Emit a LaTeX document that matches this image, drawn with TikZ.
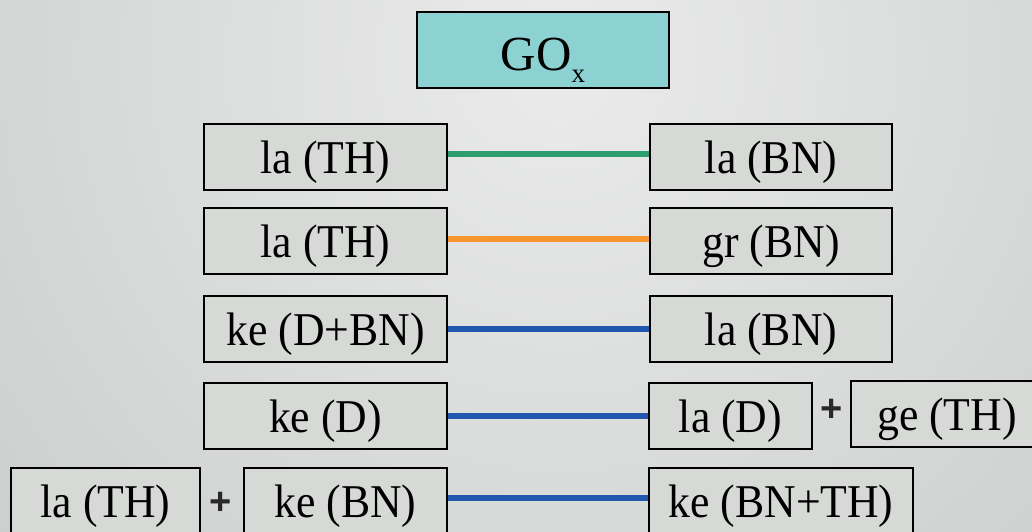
\documentclass[tikz,border=0pt]{standalone}
\usepackage{fontspec}
\setmainfont{Liberation Serif}[FakeStretch=0.93]
\newfontfamily\gofont{Liberation Serif}
\newfontfamily\plusfont{Liberation Sans}
\definecolor{bgA}{RGB}{234,235,234}
\definecolor{bgB}{RGB}{166,170,172}
\definecolor{boxfill}{RGB}{214,217,214}
\definecolor{gofill}{RGB}{140,210,210}
\definecolor{lgreen}{RGB}{46,158,110}
\definecolor{lorange}{RGB}{247,150,46}
\definecolor{lblue}{RGB}{32,88,176}
\definecolor{plusgray}{RGB}{40,40,42}
\begin{document}
\begin{tikzpicture}[x=1pt,y=-1pt,
  bx/.style={draw=black,line width=1.5pt,fill=boxfill,inner sep=0pt,minimum height=66pt,
    text height=32pt,text depth=0pt,
    font=\fontsize{47}{50}\selectfont},
  link/.style={line width=6pt},
  plus/.style={inner sep=0pt,text=plusgray,font=\plusfont\bfseries\fontsize{38}{40}\selectfont}]
\useasboundingbox (0,0) rectangle (1032,531);
\clip (0,0) rectangle (1032,531);
\shade[inner color=bgA,outer color=bgB] (560-1700,60-1700) rectangle (560+1700,60+1700);
% title
\node[draw=black,line width=1.5pt,fill=gofill,inner sep=0pt,minimum width=252pt,minimum height=76pt,
  text height=40pt,text depth=0pt,
  font=\gofont\fontsize{49}{52}\selectfont] (go) at (543,50) {GO\smash{\raisebox{-12pt}{\fontsize{27}{28}\selectfont x}}};
% row 1
\node[bx,minimum width=243pt] (l1) at (325.5,157) {la (TH)};
\node[bx,minimum width=242pt] (r1) at (771,157) {la (BN)};
% row 2
\node[bx,minimum width=243pt] (l2) at (325.5,241) {la (TH)};
\node[bx,minimum width=242pt] (r2) at (771,241) {gr (BN)};
% row 3
\node[bx,minimum width=243pt] (l3) at (325.5,329) {ke (D+BN)};
\node[bx,minimum width=242pt] (r3) at (771,329) {la (BN)};
% row 4
\node[bx,minimum width=243pt] (l4) at (325.5,416) {ke (D)};
\node[bx,minimum width=163pt] (r4) at (730.5,416) {la (D)};
\node[plus] (p4) at (832,410) {+};
\node[bx,minimum width=192pt] (g4) at (947,414) {ge (TH)};
% row 5
\node[bx,minimum width=189pt] (l5a) at (105.5,501) {la (TH)};
\node[plus] (p5) at (221,503) {+};
\node[bx,minimum width=203pt] (l5) at (345.5,501) {ke (BN)};
\node[bx,minimum width=264pt] (r5) at (781,501) {ke (BN+TH)};
% links
\draw[link,lgreen] (l1.east) ++(0,-3) -- (r1.west |- 0,154);
\draw[link,lorange] (l2.east) ++(0,-2) -- (r2.west |- 0,239);
\draw[link,lblue] (l3.east) -- (r3.west);
\draw[link,lblue] (l4.east) -- (r4.west);
\draw[link,lblue] (l5.east) ++(0,-3) -- (r5.west |- 0,498);
\end{tikzpicture}
\end{document}
